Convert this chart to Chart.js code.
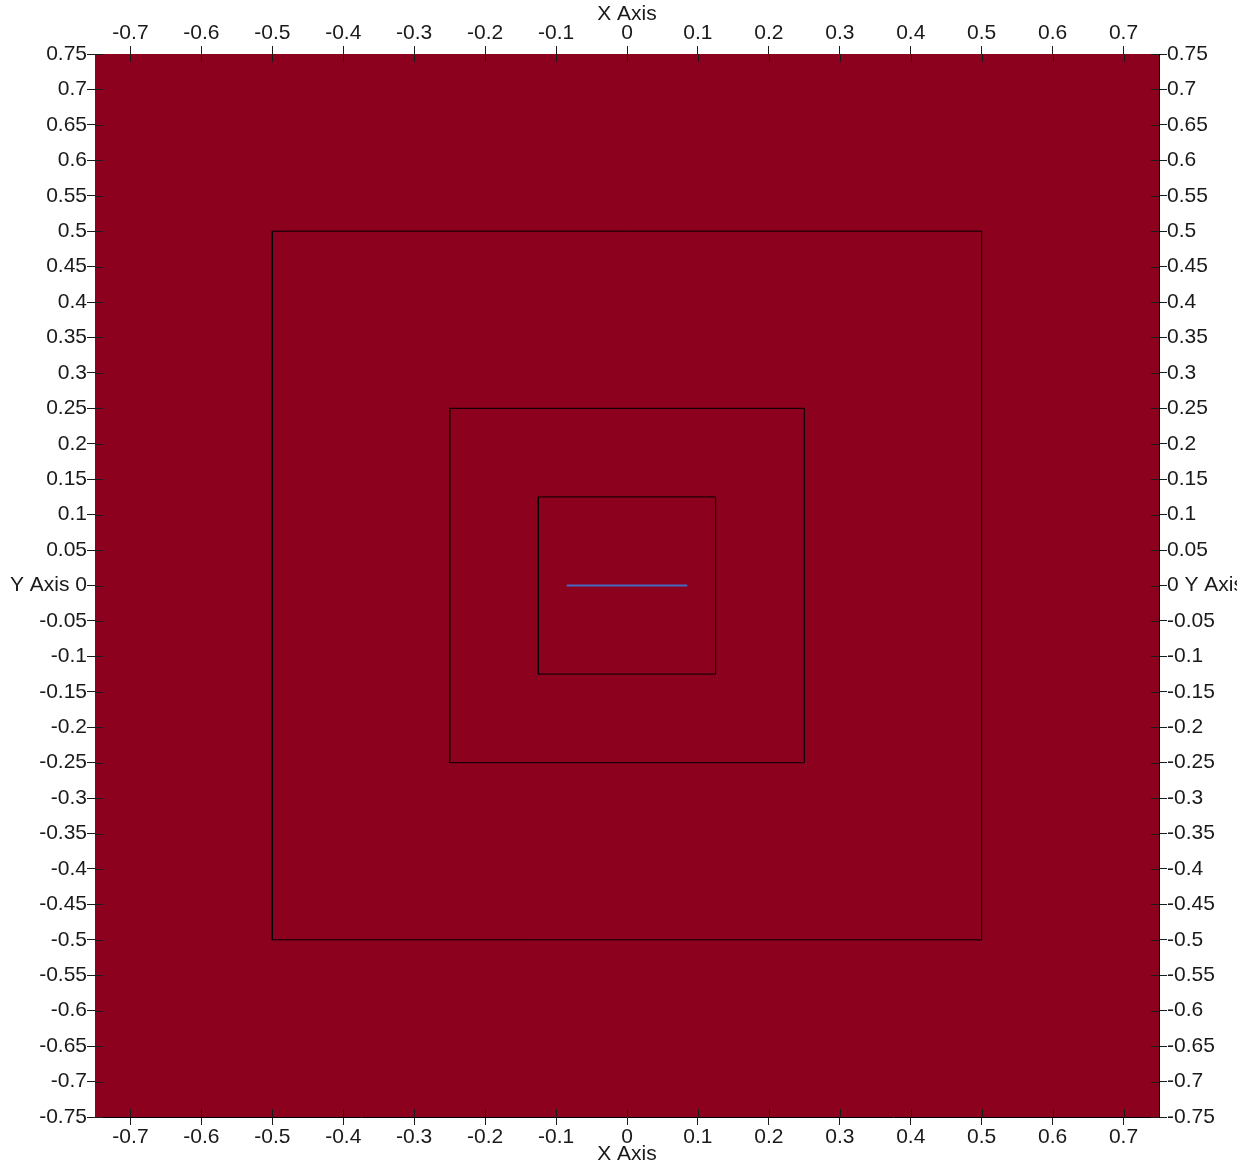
<!DOCTYPE html>
<html>
<head>
<meta charset="utf-8">
<script src="https://cdn.jsdelivr.net/npm/chart.js@4/dist/chart.umd.min.js"></script>
<style>
  html, body { margin: 0; padding: 0; background: #fff; }
</style>
</head>
<body>
<canvas id="plot" width="1253" height="1166"></canvas>
<script>
// tick positions
const xTicks = [-0.7, -0.6, -0.5, -0.4, -0.3, -0.2, -0.1, 0, 0.1, 0.2, 0.3, 0.4, 0.5, 0.6, 0.7];
const yTicks = [0.75, 0.7, 0.65, 0.6, 0.55, 0.5, 0.45, 0.4, 0.35, 0.3, 0.25, 0.2, 0.15, 0.1, 0.05, 0,
  -0.05, -0.1, -0.15, -0.2, -0.25, -0.3, -0.35, -0.4, -0.45, -0.5, -0.55, -0.6, -0.65, -0.7, -0.75];
const axisRange = [-0.75, 0.75];

// nested square outlines (half widths) and the short blue segment
const squareHalfSizes = [0.5, 0.25, 0.125];
const segmentX = [-0.085, 0.085];
const segmentY = [0, 0];

const xTitle = 'X Axis';
const yTitle = 'Y Axis';

const FILL = '#8b011e';
const INK = '#1a1a1a';

Chart.defaults.font.family = '"Liberation Sans", Arial, sans-serif';
Chart.defaults.font.size = 21;
Chart.defaults.color = INK;

function fmt(v) {
    return String(Math.round(v * 100) / 100);
}

const datasets = squareHalfSizes.map(h => ({
    data: [{x: -h, y: -h}, {x: h, y: -h}, {x: h, y: h}, {x: -h, y: h}, {x: -h, y: -h}],
    borderColor: '#000',
    borderWidth: 1,
    pointRadius: 0,
    showLine: true,
    tension: 0
}));
datasets.push({
    data: segmentX.map((x, i) => ({x: x, y: segmentY[i]})),
    borderColor: '#4568c4',
    borderWidth: 2,
    pointRadius: 0,
    showLine: true
});

// the right-hand title runs off the viewport in the original, cut it the same way
const viewClipPlugin = {
    id: 'viewClipPlugin',
    beforeDraw(chart) {
        const ctx = chart.ctx;
        ctx.save();
        ctx.beginPath();
        ctx.rect(0, 0, 1237, chart.height);
        ctx.clip();
    },
    afterDraw(chart) {
        chart.ctx.restore();
    }
};

// background of the plot area
const fillPlugin = {
    id: 'fillPlugin',
    beforeDatasetsDraw(chart) {
        const { ctx, chartArea: a } = chart;
        ctx.save();
        ctx.fillStyle = FILL;
        ctx.fillRect(a.left, a.top, a.right - a.left, a.bottom - a.top);
        ctx.restore();
    }
};

// tick marks that reach into the plot
const innerTicksPlugin = {
    id: 'innerTicksPlugin',
    afterDatasetsDraw(chart) {
        const { ctx, chartArea: a, scales } = chart;
        const len = 8;
        ctx.save();
        ctx.strokeStyle = INK;
        ctx.lineWidth = 1;
        ctx.beginPath();
        xTicks.forEach(v => {
            const px = Math.round(scales.x.getPixelForValue(v)) + 0.5;
            ctx.moveTo(px, a.bottom); ctx.lineTo(px, a.bottom - len);
            ctx.moveTo(px, a.top); ctx.lineTo(px, a.top + len);
        });
        yTicks.forEach(v => {
            const py = Math.round(scales.y.getPixelForValue(v)) + 0.5;
            ctx.moveTo(a.left, py); ctx.lineTo(a.left + len, py);
            ctx.moveTo(a.right, py); ctx.lineTo(a.right - len, py);
        });
        ctx.stroke();
        ctx.restore();
    }
};

function xAxis(pos, size) {
    return {
        type: 'linear',
        position: pos,
        min: axisRange[0],
        max: axisRange[1],
        afterBuildTicks: s => { s.ticks = xTicks.map(v => ({value: v})); },
        afterFit: s => { s.height = size; },
        ticks: { callback: v => fmt(v), maxRotation: 0, autoSkip: false, padding: 0 },
        grid: { drawOnChartArea: false, tickLength: 8, color: INK },
        border: { display: true, color: '#000', width: 1 },
        title: { display: true, text: xTitle, padding: { top: 2, bottom: -1 } }
    };
}

function yAxis(pos, size, zeroLabel) {
    return {
        type: 'linear',
        position: pos,
        min: axisRange[0],
        max: axisRange[1],
        afterBuildTicks: s => { s.ticks = yTicks.map(v => ({value: v})); },
        afterFit: s => { s.width = size; },
        ticks: { callback: v => (v === 0 ? zeroLabel : fmt(v)), autoSkip: false, padding: 0 },
        grid: { drawOnChartArea: false, tickLength: 8, color: INK },
        border: { display: true, color: '#000', width: 1 }
    };
}

new Chart(document.getElementById('plot'), {
    type: 'scatter',
    data: { datasets: datasets },
    options: {
        responsive: false,
        animation: false,
        layout: { padding: 0 },
        scales: {
            x: xAxis('bottom', 49),
            x2: xAxis('top', 54),
            y: yAxis('left', 95, yTitle + ' 0'),
            y2: yAxis('right', 94, '0 ' + yTitle)
        },
        plugins: {
            legend: { display: false },
            tooltip: { enabled: false }
        }
    },
    plugins: [viewClipPlugin, fillPlugin, innerTicksPlugin]
});
</script>
</body>
</html>
